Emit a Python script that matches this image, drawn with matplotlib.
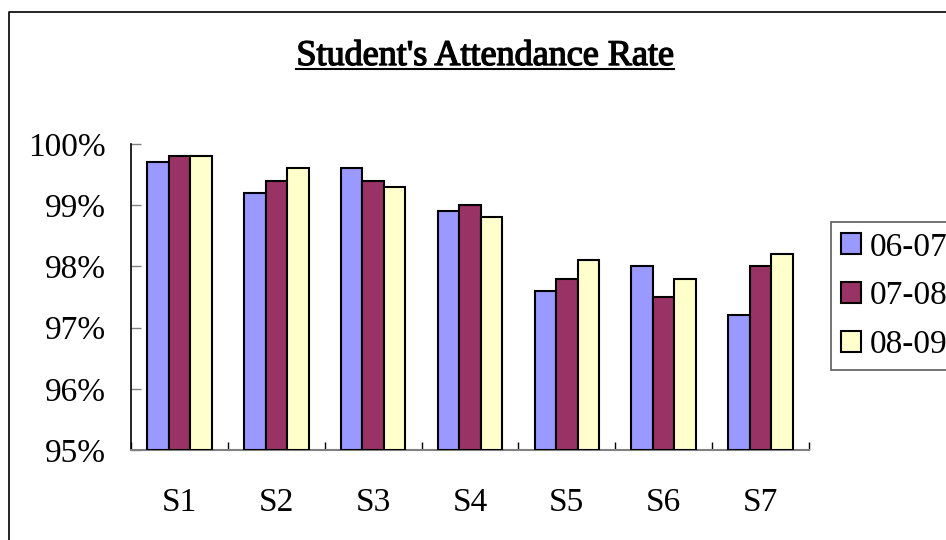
import numpy as np
import matplotlib
matplotlib.use("Agg")
import matplotlib.pyplot as plt
import matplotlib.patheffects as pe
from matplotlib.lines import Line2D
from matplotlib.ticker import FixedLocator, PercentFormatter

plt.rcParams['font.family'] = ['Liberation Serif', 'DejaVu Serif']

students = ['S1', 'S2', 'S3', 'S4', 'S5', 'S6', 'S7']
years = ['06-07', '07-08', '08-09']
rate_0607 = [99.7, 99.2, 99.6, 98.9, 97.6, 98.0, 97.2]
rate_0708 = [99.8, 99.4, 99.4, 99.0, 97.8, 97.5, 98.0]
rate_0809 = [99.8, 99.6, 99.3, 98.8, 98.1, 97.8, 98.2]
colors = ['#9999FF', '#993366', '#FFFFCC']

W, H = 946, 540
fig = plt.figure(figsize=(W / 100, H / 100), dpi=100)
ax = fig.add_axes([131 / W, 1 - 450 / H, (809 - 131) / W, (450 - 144) / H])

x = np.arange(len(students))
bw = 2 / 3 / 3
for i, (vals, c, lab) in enumerate(zip([rate_0607, rate_0708, rate_0809], colors, years)):
    ax.bar(x + (i - 1) * bw, np.array(vals) - 95, bottom=95, width=bw,
           color=c, edgecolor='black', linewidth=1.5, label=lab, zorder=3)

ax.set_xlim(-0.5, len(students) - 0.5)
ax.set_ylim(95, 100)
ax.set_yticks(np.arange(95, 101, 1))
ax.yaxis.set_major_formatter(PercentFormatter(decimals=0))
ax.set_xticks(x)
ax.set_xticklabels(students)
ax.xaxis.set_minor_locator(FixedLocator(np.arange(-0.5, len(students), 1)))

ax.tick_params(axis='y', direction='in', length=7, width=1, color='#808080',
               labelsize=24, pad=18)
ax.tick_params(axis='x', which='major', length=0, labelsize=24, pad=27)
ax.tick_params(axis='x', which='minor', direction='in', length=6, width=1, color='black')

for s in ['top', 'right']:
    ax.spines[s].set_visible(False)
ax.spines['left'].set_color('black')
ax.spines['left'].set_linewidth(1.2)
ax.spines['bottom'].set_color('#808080')
ax.spines['bottom'].set_linewidth(1.5)

leg = ax.legend(loc='upper left', bbox_to_anchor=(831 / W, 1 - 222 / H),
                bbox_transform=fig.transFigure, fontsize=24, frameon=True,
                fancybox=False, handlelength=0.6, handleheight=0.6,
                handletextpad=0.25, labelspacing=0.55, borderpad=0.3,
                borderaxespad=0)
leg.get_frame().set_edgecolor('#333333')
leg.get_frame().set_linewidth(1.2)

title = fig.text(485 / W, 1 - 65 / H, "Student's Attendance Rate", ha='center',
                 va='baseline', fontsize=26,
                 path_effects=[pe.withStroke(linewidth=1.0, foreground='black')])

# underline the title
fig.canvas.draw()
bb = title.get_window_extent().transformed(fig.transFigure.inverted())
uy = 1 - 69 / H
fig.add_artist(Line2D([bb.x0, bb.x1], [uy, uy], color='black', linewidth=1.5))

# chart border
fig.add_artist(Line2D([9 / W, 9 / W, 1.0], [0.0, 1 - 12 / H, 1 - 12 / H],
                      color='black', linewidth=1.2))

fig.savefig('out.png', dpi=100)
